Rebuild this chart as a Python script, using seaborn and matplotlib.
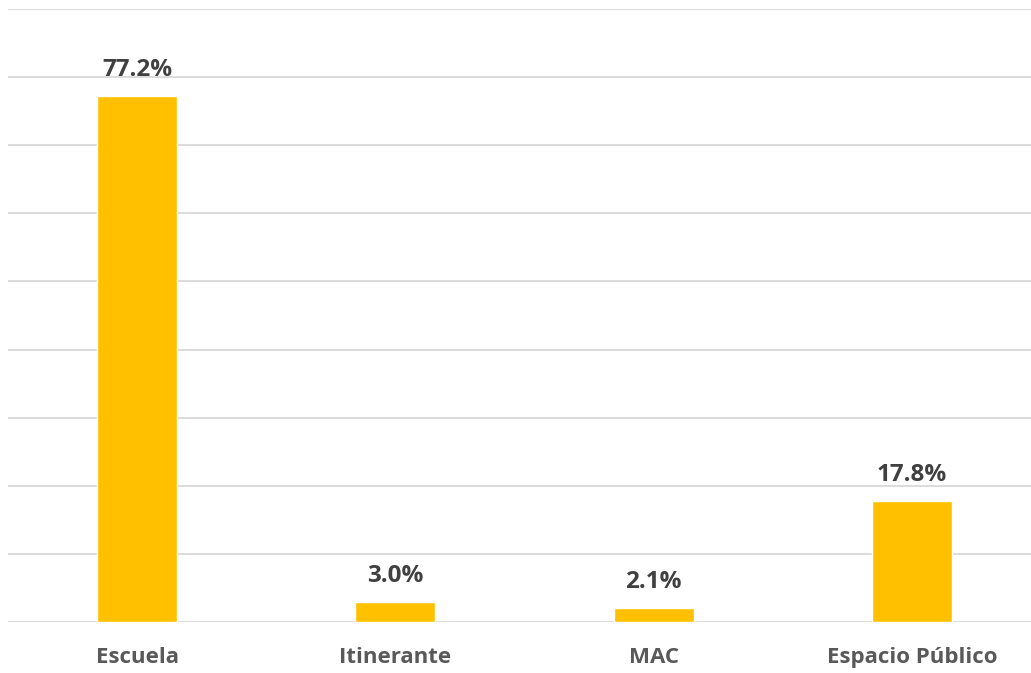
import pandas as pd
import matplotlib.pyplot as plt
import seaborn as sns

# shares by place of attention
categories = ["Escuela", "Itinerante", "MAC", "Espacio Público"]
shares = [77.2, 3.0, 2.1, 17.8]
value_labels = ["77.2%", "3.0%", "2.1%", "17.8%"]

df = pd.DataFrame({"Lugar": categories, "Porcentaje": shares})

sns.set_style("white")
plt.rcParams['font.family'] = ['Open Sans', 'DejaVu Sans']

fig = plt.figure(figsize=(10.31, 6.73), dpi=100)
ax = fig.add_axes([8/1031, 51/673, 1033/1031, 613/673])

sns.barplot(data=df, x="Lugar", y="Porcentaje", color="#FFC000", width=0.31,
            saturation=1, ax=ax)

ax.set_ylim(0, 90)
ax.set_xlim(-0.5, 3.5)
ax.set_yticks(range(0, 91, 10))
ax.set_yticklabels([])
ax.yaxis.grid(True, color="#d9d9d9", linewidth=1.3)
ax.set_axisbelow(True)
for s in ax.spines.values():
    s.set_visible(False)

ax.set_xlabel("")
ax.set_ylabel("")
ax.tick_params(axis="x", length=0, pad=18, labelsize=16, labelcolor="#595959")
ax.tick_params(axis="y", length=0)
for t in ax.get_xticklabels():
    t.set_fontweight("bold")

for i, (v, lab) in enumerate(zip(shares, value_labels)):
    ax.annotate(lab, (i, v), xytext=(0, 10), textcoords="offset points",
                ha="center", va="bottom", fontsize=17.5, fontweight="bold",
                color="#404040")

fig.savefig("out.png", dpi=100)
